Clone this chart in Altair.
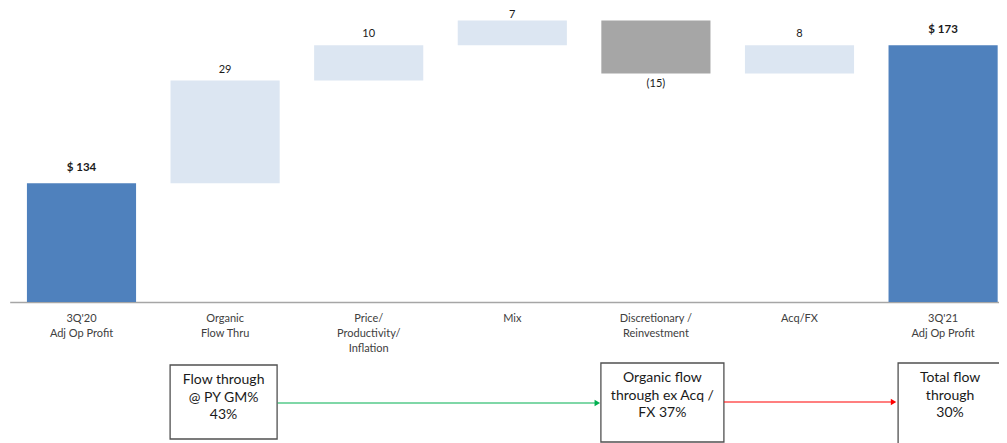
import altair as alt
import pandas as pd

# ---- data ----
keys = ["q320", "org", "price", "mix", "disc", "acq", "q321"]
cat_labels = [
    "3Q'20\nAdj Op Profit",
    "Organic\nFlow Thru",
    "Price/\nProductivity/\nInflation",
    "Mix",
    "Discretionary /\nReinvestment",
    "Acq/FX",
    "3Q'21\nAdj Op Profit",
]
values = [134, 29, 10, 7, -15, 8, 173]
kinds = ["total", "up", "up", "up", "down", "up", "total"]
value_labels = ["$ 134", "29", "10", "7", "(15)", "8", "$ 173"]

box_cats = ["org", "disc", "q321"]
box_texts = [
    "Flow through\n@ PY GM%\n43%",
    "Organic flow\nthrough ex  Acq /\nFX 37%",
    "Total flow\nthrough\n30%",
]
arrow_from = ["org", "disc"]
arrow_to = ["disc", "q321"]
arrow_colors = ["#00B050", "#FF0000"]

# ---- waterfall table ----
rows = []
running = 0
for k, lab, v, kind, vl in zip(keys, cat_labels, values, kinds, value_labels):
    if kind == "total":
        start, end = 0, v
        running = v
    else:
        start, end = running, running + v
        running = end
    rows.append(dict(key=k, cat=lab, kind=kind, lo=min(start, end), hi=max(start, end), vlabel=vl))
df = pd.DataFrame(rows)

FONT = "Lato"
xscale = alt.Scale(domain=keys, range=[1.7, 1006.9], paddingInner=0.24, paddingOuter=0.12)
yscale = alt.Scale(domain=[100.4, 183.5], range=[294, 0], clamp=True, zero=False, nice=False)
X = lambda f="key:N", **kw: alt.X(f, scale=xscale, sort=keys, **kw)

base = alt.Chart(df)

bars = base.mark_bar().encode(
    x=X(axis=alt.Axis(labels=False, ticks=False, title=None, domainColor="#A6A6A6",
                      domainWidth=1.5, offset=-141)),
    y=alt.Y("lo:Q", scale=yscale, axis=None),
    y2="hi:Q",
    color=alt.Color("kind:N", scale=alt.Scale(domain=["total", "up", "down"],
                                              range=["#4F81BD", "#DCE6F2", "#A6A6A6"]), legend=None),
)

lbl_total = base.transform_filter("datum.kind == 'total'").mark_text(
    font=FONT, fontSize=11.5, fontWeight="bold", color="#1a1a1a", baseline="middle", dy=-15
).encode(x=X(), y=alt.Y("hi:Q", scale=yscale), text="vlabel:N")

lbl_up = base.transform_filter("datum.kind == 'up' && datum.key != 'mix'").mark_text(
    font=FONT, fontSize=11, color="#1a1a1a", baseline="middle", dy=-11
).encode(x=X(), y=alt.Y("hi:Q", scale=yscale), text="vlabel:N")

lbl_mix = base.transform_filter("datum.key == 'mix'").mark_text(
    font=FONT, fontSize=11, color="#1a1a1a", baseline="middle", dy=-5
).encode(x=X(), y=alt.Y("hi:Q", scale=yscale), text="vlabel:N")

lbl_down = base.transform_filter("datum.kind == 'down'").mark_text(
    font=FONT, fontSize=11, color="#1a1a1a", baseline="middle", dy=11
).encode(x=X(), y=alt.Y("lo:Q", scale=yscale), text="vlabel:N")

cat_text = base.mark_text(
    font=FONT, fontSize=11, color="#404040", baseline="top", lineBreak="\n", lineHeight=15
).encode(x=X(), y=alt.value(305), text="cat:N")

layers = [bars, lbl_total, lbl_up, lbl_mix, lbl_down, cat_text]

# annotation boxes
box_geom = [  # (width, xOffset, top, bottom, text y)
    (107, -1.5, 357, 431, 372),
    (123, 6.5, 355, 434, 370),
    (104, 7, 355, 436, 370),
]
for bc, bt, (w, dx, t, b, ty) in zip(box_cats, box_texts, box_geom):
    bdf = pd.DataFrame({"key": [bc], "text": [bt]})
    layers.append(
        alt.Chart(bdf).mark_bar(width=w, xOffset=dx, fill="white", stroke="#505050", strokeWidth=1.3)
        .encode(x=X(), y=alt.value(t), y2=alt.value(b))
    )
    layers.append(
        alt.Chart(bdf).mark_text(font=FONT, fontSize=14, color="#1a1a1a", lineBreak="\n",
                                 lineHeight=17.5, baseline="middle", dx=dx)
        .encode(x=X(), y=alt.value(ty), text="text:N")
    )

# arrows
arrow_geom = [  # (start offset, end offset, y)
    (-2, 0, 395),
    (13.5, 9, 394),
]
for af, at, col, (o1, o2, yy) in zip(arrow_from, arrow_to, arrow_colors, arrow_geom):
    adf = pd.DataFrame({"from": [af], "to": [at]})
    layers.append(
        alt.Chart(adf).mark_rule(color=col, strokeWidth=1.2, xOffset=o1, x2Offset=o2 - 6)
        .encode(x=X("from:N", bandPosition=1), x2=alt.X2("to:N", bandPosition=0), y=alt.value(yy))
    )
    layers.append(
        alt.Chart(adf).mark_point(shape="triangle-right", filled=True, size=40, color=col,
                                  opacity=1, xOffset=o2 - 4)
        .encode(x=X("to:N", bandPosition=0), y=alt.value(yy))
    )

chart = alt.layer(*layers).properties(
    width=991, height=435, padding=0, autosize=alt.AutoSizeParams(type="none"),
    background="white",
).configure_view(stroke=None)

chart.save("out.html", embed_options={"renderer": "svg", "actions": False})
